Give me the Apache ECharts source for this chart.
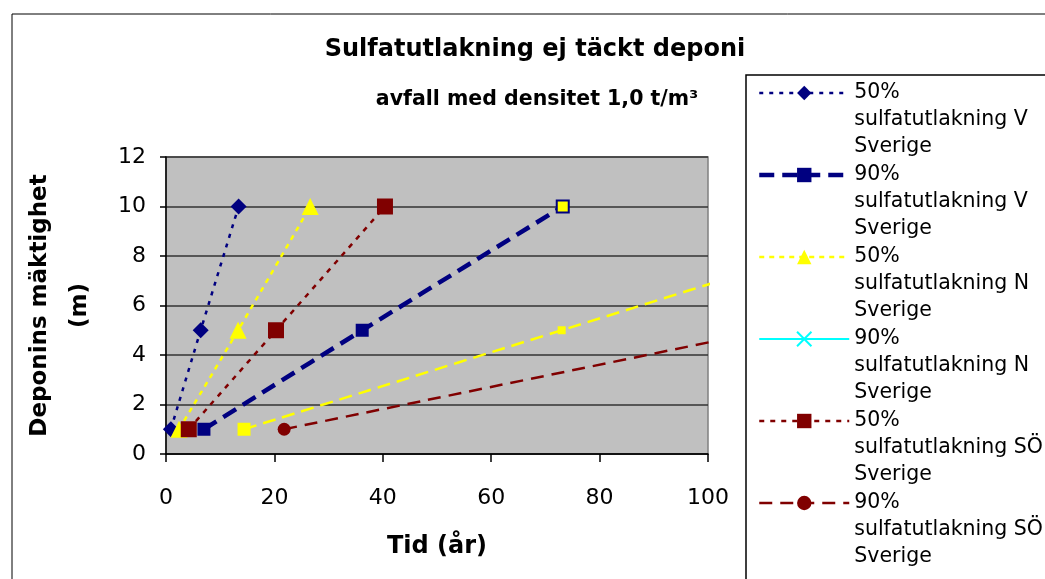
<!DOCTYPE html>
<html>
<head>
<meta charset="utf-8">
<script src="https://cdn.jsdelivr.net/npm/echarts@6/dist/echarts.min.js"></script>
<style>
  html, body { margin: 0; padding: 0; background: #ffffff; }
  #chart { width: 1045px; height: 579px; }
</style>
</head>
<body>
<div id="chart"></div>
<script>
// Landfill thickness (m) at which each leaching time is reached
const thickness = [1, 5, 10];

// Time (years) per scenario, one value per thickness
const time50V  = [0.9, 6.4, 13.4];
const time90V  = [7.0, 36.2, 73.2];
const time50N  = [2.4, 13.3, 26.6];
const time90N  = [14.4, 73.0, 146];
const time50SO = [4.2, 20.3, 40.4];
const time90SO = [21.8, 111, 222];

const seriesNames = [
  '50% sulfatutlakning V Sverige',
  '90% sulfatutlakning V Sverige',
  '50% sulfatutlakning N Sverige',
  '90% sulfatutlakning N Sverige',
  '50% sulfatutlakning SÖ Sverige',
  '90% sulfatutlakning SÖ Sverige'
];

const titleText = 'Sulfatutlakning ej täckt deponi';
const subtitleText = 'avfall med densitet 1,0 t/m³';
const xName = 'Tid (år)';
const yName = 'Deponins mäktighet\n(m)';

const FONT = '"DejaVu Sans", sans-serif';
const NAVY = '#000080', YELLOW = '#FFFF00', MAROON = '#800000', CYAN = '#00FFFF';

// line looks shared by series and their legend entries
const looks = [
  { color: NAVY,   width: 2.5, type: [4, 6] },
  { color: NAVY,   width: 4.5, type: [15, 8] },
  { color: YELLOW, width: 2.5, type: [5, 5] },
  { color: CYAN,   width: 2,   type: 'solid' },
  { color: MAROON, width: 2.5, type: [5, 6] },
  { color: MAROON, width: 2.5, type: [13, 8] }
];
const yellowDash = { color: YELLOW, width: 2.5, type: [13, 7] };

const pairs = times => times.map((t, i) => [t, thickness[i]]);

function lineSeries(idx, extra) {
  return Object.assign({
    name: seriesNames[idx],
    type: 'line',
    smooth: 0.4,
    clip: true,
    lineStyle: looks[idx],
    emphasis: { disabled: true }
  }, extra);
}

const chart = echarts.init(document.getElementById('chart'));

const series = [
  lineSeries(0, { data: pairs(time50V), symbol: 'diamond', symbolSize: 16,
    itemStyle: { color: NAVY } }),
  lineSeries(1, {
    data: pairs(time90V).map((p, i) => i === 2
      ? { value: p, symbolSize: 12, itemStyle: { color: YELLOW, borderColor: NAVY, borderWidth: 2 } }
      : p),
    symbol: 'rect', symbolSize: 13, itemStyle: { color: NAVY } }),
  lineSeries(2, { data: pairs(time50N), symbol: 'triangle', symbolSize: 17,
    itemStyle: { color: YELLOW } }),
  // legend key for the N 90% scenario
  lineSeries(3, { data: [], symbol: 'path://M0,0L10,10M10,0L0,10', symbolSize: 14,
    itemStyle: { color: CYAN, borderColor: CYAN, borderWidth: 2 } }),
  // plotted N 90% curve
  lineSeries(3, {
    data: pairs(time90N).map((p, i) => ({ value: p, symbolSize: i === 0 ? 13 : 8 })),
    symbol: 'rect', itemStyle: { color: YELLOW }, lineStyle: yellowDash }),
  lineSeries(4, { data: pairs(time50SO), symbol: 'rect', symbolSize: 16,
    itemStyle: { color: MAROON } }),
  lineSeries(5, { data: pairs(time90SO), symbol: 'circle', symbolSize: 13,
    itemStyle: { color: MAROON } })
];

const option = {
  animation: false,
  backgroundColor: '#ffffff',
  title: [
    { text: titleText, left: 535, top: 38, textAlign: 'center', padding: 0,
      textStyle: { fontFamily: FONT, fontWeight: 'bold', fontSize: 24, color: '#000' } },
    { text: subtitleText, left: 537, top: 89, textAlign: 'center', padding: 0,
      textStyle: { fontFamily: FONT, fontWeight: 'bold', fontSize: 20.5, color: '#000' } }
  ],
  graphic: [
    { type: 'rect', z: 0, silent: true, shape: { x: 12, y: 14, width: 1100, height: 700 },
      style: { fill: 'none', stroke: '#000', lineWidth: 1 } },
    { type: 'rect', z: 1, silent: true, shape: { x: 746, y: 75, width: 400, height: 600 },
      style: { fill: '#fff', stroke: '#000', lineWidth: 1.5 } }
  ],
  legend: {
    orient: 'vertical',
    align: 'left',
    left: 757,
    top: 47.5,
    height: 2000,
    padding: 0,
    z: 10,
    itemWidth: 90,
    itemHeight: 18,
    itemGap: -28,
    selectedMode: false,
    data: seriesNames.map((n, i) => ({ name: n, lineStyle: { type: looks[i].type, width: looks[i].width } })),
    // spacer line above keeps the key beside the first text line
    formatter: name => {
      const parts = name.split(' ');
      return '{p| }\n{t|' + parts[0] + '}\n{t|' + parts.slice(1, -1).join(' ') + '}\n{t|' + parts[parts.length - 1] + '}';
    },
    textStyle: {
      fontFamily: FONT, fontSize: 20.5, color: '#000',
      rich: {
        p: { fontSize: 10, lineHeight: 54 },
        t: { fontFamily: FONT, fontSize: 20.5, lineHeight: 27, color: '#000' }
      }
    }
  },
  grid: {
    left: 166, right: 337, top: 157, bottom: 125,
    show: true, backgroundColor: '#C0C0C0', borderColor: '#808080', borderWidth: 1.5
  },
  xAxis: {
    type: 'value', min: 0, max: 100, interval: 20,
    name: xName, nameLocation: 'middle', nameGap: 81,
    nameTextStyle: { fontFamily: FONT, fontWeight: 'bold', fontSize: 24, color: '#000' },
    axisLine: { show: true, onZero: false, lineStyle: { color: '#000', width: 1.5 } },
    axisTick: { show: true, length: 8, lineStyle: { color: '#000', width: 1.5 } },
    axisLabel: { fontFamily: FONT, fontSize: 22, color: '#000', margin: 33 },
    splitLine: { show: false }
  },
  yAxis: {
    type: 'value', min: 0, max: 12, interval: 2,
    name: yName, nameLocation: 'middle', nameGap: 66,
    nameTextStyle: { fontFamily: FONT, fontWeight: 'bold', fontSize: 23, lineHeight: 40, color: '#000' },
    axisLine: { show: true, onZero: false, lineStyle: { color: '#000', width: 1.5 } },
    axisTick: { show: true, length: 6, lineStyle: { color: '#000', width: 1.5 } },
    axisLabel: { fontFamily: FONT, fontSize: 22, color: '#000', margin: 20 },
    splitLine: { show: true, lineStyle: { color: '#333', width: 1.5 } }
  },
  series: series
};

chart.setOption(option);
</script>
</body>
</html>
